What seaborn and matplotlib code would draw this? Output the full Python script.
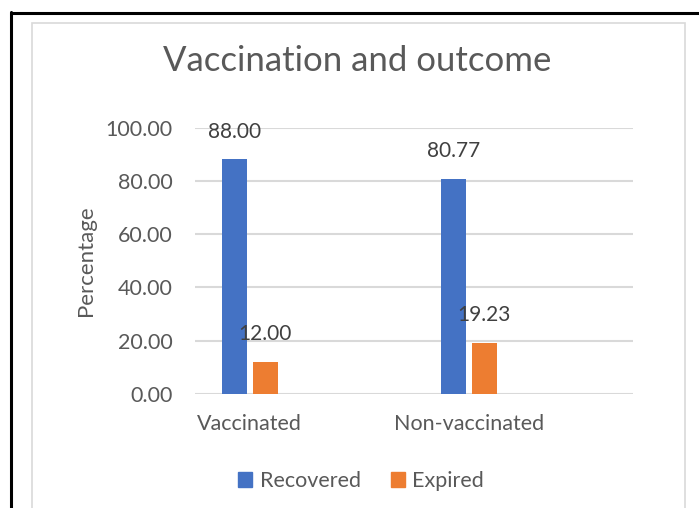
import numpy as np
import pandas as pd
import matplotlib
matplotlib.use("Agg")
import matplotlib.pyplot as plt
import seaborn as sns
from matplotlib.lines import Line2D
from matplotlib.patches import Rectangle

groups = ["Vaccinated", "Non-vaccinated"]
outcomes = ["Recovered", "Expired"]
recovered = [88.00, 80.77]
expired = [12.00, 19.23]
y_ticks = [0, 20, 40, 60, 80, 100]

df = pd.DataFrame({
    "group": groups * 2,
    "outcome": [outcomes[0]] * 2 + [outcomes[1]] * 2,
    "value": recovered + expired,
})

sns.set_theme(style="white")
plt.rcParams["font.family"] = ["Lato", "DejaVu Sans"]
txt = "#595959"
colors = ["#4472C4", "#ED7D31"]

fig = plt.figure(figsize=(6.99, 5.08), dpi=100)

# frame of the screenshot
fig.add_artist(Line2D([11 / 699, 11 / 699], [0, 1 - 12 / 508], color="black", lw=2.2))
fig.add_artist(Line2D([11 / 699, 1], [1 - 12.5 / 508, 1 - 12.5 / 508], color="black", lw=2.2))
fig.add_artist(Rectangle((32 / 699, -0.02), (685 - 32) / 699, 0.02 + 1 - 23 / 508,
                         transform=fig.transFigure, fill=False, edgecolor="#D9D9D9", lw=1.2))

ax = fig.add_axes([195 / 699, 1 - 394 / 508, (633 - 195) / 699, (394 - 127.5) / 508])
sns.barplot(data=df, x="group", y="value", hue="outcome", order=groups, hue_order=outcomes,
            palette=colors, saturation=1, width=0.283, gap=0.2, linewidth=0,
            ax=ax, legend=False)

ax.set_xlim(-0.25, 1.75)
ax.set_ylim(0, 100)
ax.set_yticks(y_ticks)
ax.set_yticklabels([f"{v:.2f}" for v in y_ticks])
ax.yaxis.grid(True, color="#D9D9D9", lw=1.5)
ax.set_axisbelow(True)
for s in ax.spines.values():
    s.set_visible(False)
ax.tick_params(axis="both", length=0, labelsize=15.5, labelcolor=txt)
ax.tick_params(axis="y", pad=16)
ax.tick_params(axis="x", pad=14.5)
ax.set_xlabel("")
ax.set_ylabel("Percentage", fontsize=16, color=txt, labelpad=7)

# data labels above the bars
for cont in ax.containers:
    for bar in cont:
        h = bar.get_height()
        ax.annotate(f"{h:.2f}", (bar.get_x() + bar.get_width() / 2, h),
                    xytext=(0, 20), textcoords="offset points",
                    ha="center", va="center", fontsize=15, color="#404040")

fig.text(357.5 / 699, 1 - 61 / 508, "Vaccination and outcome", ha="center", va="center",
         fontsize=25, color=txt)

handles = [Rectangle((0, 0), 1, 1, color=c) for c in colors]
fig.legend(handles, outcomes, loc="center", bbox_to_anchor=(361 / 699, 1 - 481 / 508),
           ncol=2, frameon=False, fontsize=15.5, labelcolor=txt, handlelength=0.65,
           handleheight=0.65, handletextpad=0.35, columnspacing=1.4)

fig.savefig("out.png", dpi=100)
